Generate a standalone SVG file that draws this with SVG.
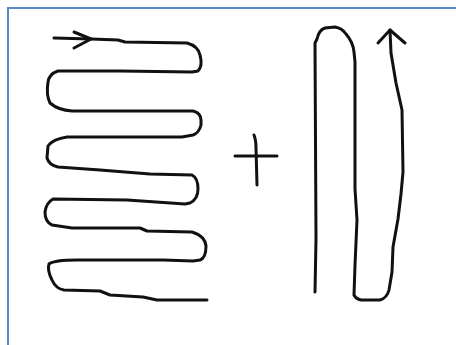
<svg xmlns="http://www.w3.org/2000/svg" width="456" height="345" viewBox="0 0 456 345">
<style>
.ink{fill:none;stroke:#111;stroke-width:3;stroke-linecap:round;stroke-linejoin:round}
.frame{fill:none;stroke:#5b87c9;stroke-width:2}
</style>
<rect width="456" height="345" fill="#fff"/>
<g id="frame"><path class="frame" d="M8,345 V8 H456"/></g>
<g id="serpentine">
<path class="ink" d="M54,38 L91,39 L118,40 L125,42 L187,43 Q198,46 200,55 Q203,66 198,71 L192,72 L120,71 L58,71 Q49,74 48,82 Q46,95 50,103 Q58,110 72,111 L193,111 Q201,113 201,120 L201,125 Q199,133 193,135 L182,137 L67,137 Q53,139 48,146 L47,158 Q49,165 58,167 L100,170 L150,174 L192,175 Q198,178 198,189 Q198,199 190,203 L185,204 L127,200 L53,199 Q46,203 45,212 Q45,222 52,225 L72,228 L140,228 L147,231 L192,232 Q205,236 206,246 Q206,258 200,260 L193,261 L163,260 L77,260 Q54,260 49,264 Q47,270 52,280 Q56,289 64,290 L100,291 L110,295 L143,297 L157,300 L207,300"/>
<path class="ink" d="M74,32 L91,39 L74,48"/>
</g>
<g id="plus">
<path class="ink" d="M235,156 H277"/>
<path class="ink" d="M254,135 Q256,140 256,148 L257,185"/>
</g>
<g id="loop">
<path class="ink" d="M315,292 L316,239 L315,43 L317,39 Q319,30 325,28 L335,27 Q342,28 346,34 Q353,42 354,52 L355,62 L355,172 L355,189 L357,220 L355,265 L354,295 Q356,299 361,300 L380,300 Q387,298 389,290 L392,272 L393,247 L398,219 L401,194 L403,172 L402,110 L396,83 L391,53 L390,30"/>
<path class="ink" d="M378,43 L390,30 L405,43"/>
</g>
</svg>
